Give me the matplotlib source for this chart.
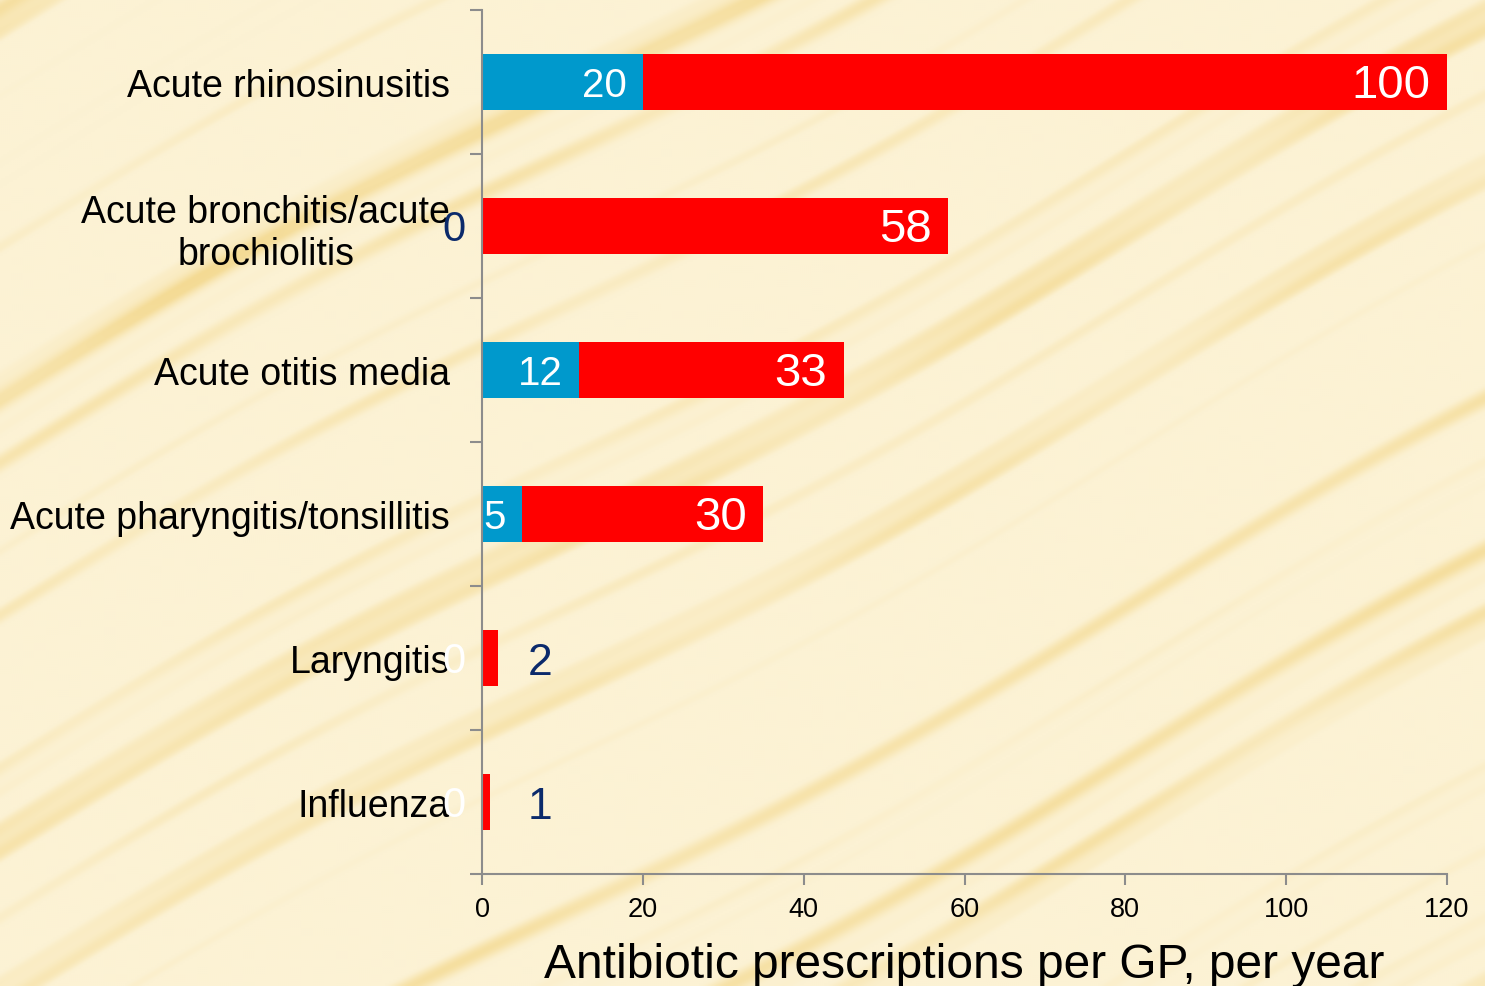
import numpy as np
import matplotlib.pyplot as plt

plt.rcParams['font.family'] = ['Liberation Sans', 'DejaVu Sans']

# data
categories = ['Acute rhinosinusitis', 'Acute bronchitis/acute\nbrochiolitis',
              'Acute otitis media', 'Acute pharyngitis/tonsillitis',
              'Laryngitis', 'Influenza']
blue_vals = [20, 0, 12, 5, 0, 0]
red_vals = [100, 58, 33, 30, 2, 1]
xticks = [0, 20, 40, 60, 80, 100, 120]

blue = '#0099CC'
red = '#FF0000'
navy = '#0B2A6B'

fig = plt.figure(figsize=(14.85, 9.87), dpi=100)

# parchment-like background with diagonal streaks going up to the right
bg = fig.add_axes([0, 0, 1, 1], zorder=-10)
h, w = 494, 743
yy, xx = np.mgrid[0:h, 0:w]
u = xx * 0.48 + yy * 0.88 + 6 * np.sin(xx / 90.0)
s = (np.sin(u * 0.19) * 0.45 + np.sin(u * 0.071 + 1.3) * 0.35
     + np.sin(u * 0.47 + 0.4) * 0.2 + np.sin(u * 0.031 + 2.0) * 0.3)
s = np.clip((s - 0.2) / 0.9, 0, 1) ** 1.3
v = 0.5 + 0.5 * np.sin(xx / 37.0 + yy / 23.0) * np.sin(yy / 41.0 - xx / 61.0)
base = np.array([252, 242, 212]) / 255.0
streak = np.array([242, 212, 130]) / 255.0
k = (s * (0.45 + 0.4 * v))[..., None]
img = base[None, None, :] * (1 - k) + streak[None, None, :] * k
bg.imshow(img, aspect='auto', interpolation='bilinear', extent=[0, 1, 0, 1])
bg.axis('off')

ax = fig.add_axes([0.3246, 0.1135, 0.6498, 0.8754])
ax.patch.set_alpha(0)
y = np.arange(len(categories))
ax.barh(y, blue_vals, height=0.395, color=blue)
ax.barh(y, red_vals, left=blue_vals, height=0.395, color=red)

ax.set_xlim(0, 120)
ax.set_ylim(len(categories) - 0.5, -0.5)
ax.set_xticks(xticks)
ax.set_yticks(y)
ax.set_yticklabels(categories, fontsize=27, multialignment='center')
ax.set_yticks(np.arange(-0.5, len(categories)), minor=True)
ax.tick_params(axis='y', which='major', length=0, pad=23)
ax.tick_params(axis='y', which='minor', length=9, width=1.5, color='#8c8c8c', direction='out')
ax.tick_params(axis='x', length=8, width=1.5, color='#8c8c8c', labelsize=19.5, pad=8)
for sp in ['top', 'right']:
    ax.spines[sp].set_visible(False)
for sp in ['left', 'bottom']:
    ax.spines[sp].set_color('#8c8c8c')
    ax.spines[sp].set_linewidth(1.5)

ax.set_xlabel('Antibiotic prescriptions per GP, per year', fontsize=34.5, labelpad=14)

# labels for blue segments
for i, b in enumerate(blue_vals):
    if b > 0:
        ax.text(b - 2.0, i + 0.02, str(b), ha='right', va='center', color='white', fontsize=29)
    else:
        col = navy if i == 1 else 'white'
        ax.text(-2.0, i + 0.02, str(b), ha='right', va='center', color=col, fontsize=30)

# labels for red segments
for i, (b, r) in enumerate(zip(blue_vals, red_vals)):
    end = b + r
    if r >= 10:
        ax.text(end - 2.1, i + 0.02, str(r), ha='right', va='center', color='white', fontsize=34)
    else:
        ax.text(7.2, i + 0.03, str(r), ha='center', va='center', color=navy, fontsize=32)

fig.savefig('out.png', dpi=100)
